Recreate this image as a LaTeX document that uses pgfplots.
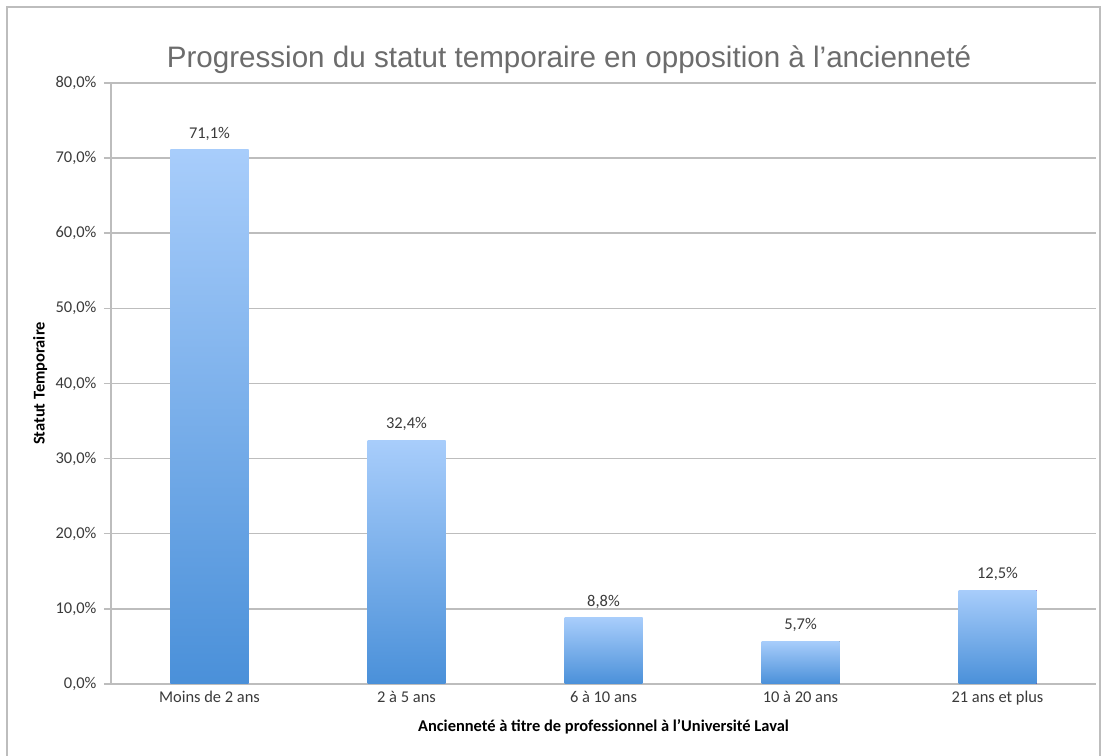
\documentclass[border=0pt]{standalone}
\usepackage{pgfplots}
\pgfplotsset{compat=1.18}
\usepackage{fontspec}
\setmainfont{Carlito}
\newfontfamily\titlefont{Liberation Sans}
\definecolor{gridc}{HTML}{BDBDBD}
\definecolor{barTop}{HTML}{A8CDFB}
\definecolor{barBot}{HTML}{4A90D9}
\definecolor{txt}{HTML}{3A3A3A}
\begin{document}
\begin{tikzpicture}[x=1bp,y=1bp]
\useasboundingbox (-111bp,-72bp) rectangle (994bp,684bp);
\draw[gridc, line width=2bp] (-104bp,-90bp) -- (-104bp,677bp) -- (989bp,677bp) -- (989bp,-90bp);
\begin{axis}[
  at={(0,0)}, anchor=south west,
  scale only axis, width=985bp, height=601bp,
  ybar, bar width=78bp, bar shift=0pt,
  xmin=-0.5, xmax=4.5, ymin=0, ymax=80,
  xtick={0,1,2,3,4},
  xticklabels={Moins de 2 ans, 2 à 5 ans, 6 à 10 ans, 10 à 20 ans, 21 ans et plus},
  ytick={0,10,...,80},
  yticklabel={\pgfmathprintnumber[fixed,fixed zerofill,precision=1,use comma]{\tick}\%},
  /pgf/number format/assume math mode=true,
  axis x line*=bottom, axis y line*=left,
  axis line style={gridc, line width=1.5bp, -},
  ymajorgrids, grid style={gridc, line width=1.5bp},
  major x tick style={draw=none},
  major y tick style={gridc, line width=1.5bp},
  major tick length=7bp,
  tick align=outside,
  ticklabel style={font=\fontsize{16.5}{19}\selectfont, text=txt},
  yticklabel style={xshift=-4bp},
  xticklabel style={yshift=3bp},
  nodes near coords={\pgfmathprintnumber[fixed,fixed zerofill,precision=1,use comma]{\pgfplotspointmeta}\%},
  nodes near coords style={font=\fontsize{16.5}{19}\selectfont, text=txt, yshift=6bp},
  ylabel={Statut Temporaire},
  ylabel style={font=\bfseries\fontsize{16.5}{19}\selectfont, text=black, at={(axis description cs:-0.072,0.5)}, anchor=center},
  xlabel={Ancienneté à titre de professionnel à l'Université Laval},
  xlabel style={font=\bfseries\fontsize{16.5}{19}\selectfont, text=black, at={(axis description cs:0.5,0)}, anchor=center, yshift=-43bp},
  every axis plot/.append style={draw=none, top color=barTop, bottom color=barBot},
  clip=false,
]
\addplot coordinates {(0,71.1)};
\addplot coordinates {(1,32.4)};
\addplot coordinates {(2,8.8)};
\addplot coordinates {(3,5.7)};
\addplot coordinates {(4,12.5)};
\end{axis}
\node[font=\titlefont\fontsize{29.7}{34}\selectfont, text=gray!85!black] at (458bp,624bp) {Progression du statut temporaire en opposition à l’ancienneté};
\end{tikzpicture}
\end{document}
